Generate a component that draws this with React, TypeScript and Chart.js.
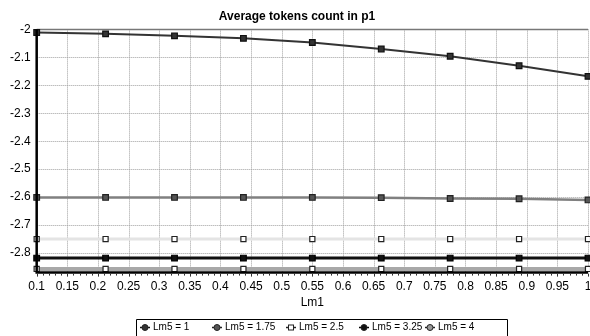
import React, { useEffect, useRef } from "react";
import { Chart, registerables } from "chart.js";

Chart.register(...registerables);

const titleText = "Average tokens count in p1";
const xAxisTitle = "Lm1";
const xValues = [0.1, 0.2125, 0.325, 0.4375, 0.55, 0.6625, 0.775, 0.8875, 1];
const seriesLabels = ["Lm5 = 1", "Lm5 = 1.75", "Lm5 = 2.5", "Lm5 = 3.25", "Lm5 = 4"];
const lm5_1 = [-2.011, -2.016, -2.023, -2.032, -2.047, -2.07, -2.096, -2.13, -2.168];
const lm5_175 = [-2.601, -2.601, -2.601, -2.601, -2.601, -2.602, -2.605, -2.606, -2.61];
const lm5_25 = [-2.75, -2.75, -2.75, -2.75, -2.75, -2.75, -2.75, -2.75, -2.75];
const lm5_325 = [-2.818, -2.818, -2.818, -2.818, -2.818, -2.818, -2.818, -2.818, -2.818];
const lm5_4 = [-2.857, -2.857, -2.857, -2.857, -2.857, -2.857, -2.857, -2.857, -2.857];
const xTickValues = [0.1, 0.15, 0.2, 0.25, 0.3, 0.35, 0.4, 0.45, 0.5, 0.55, 0.6, 0.65, 0.7, 0.75, 0.8, 0.85, 0.9, 0.95, 1];
const yTickValues = [-2, -2.1, -2.2, -2.3, -2.4, -2.5, -2.6, -2.7, -2.8];
const xMin = 0.1;
const xMax = 1;
const yMin = -2.87;
const yMax = -2;

const FONT = "'Liberation Sans', Arial, sans-serif";

const styles = [
  { line: "#333333", width: 2, fill: "#333333", border: "#111111", radius: 4, legendShape: "circle" },
  { line: "#808080", width: 2.5, fill: "#555555", border: "#222222", radius: 4, legendShape: "circle" },
  { line: "#e4e4e4", width: 3, fill: "#ffffff", border: "#222222", radius: 3.6, legendShape: "rect" },
  { line: "#111111", width: 3, fill: "#111111", border: "#000000", radius: 4, legendShape: "circle" },
  { line: "#a8a8a8", width: 4, fill: "#ffffff", border: "#222222", radius: 3.6, legendShape: "circle4" },
];

const allSeries = [lm5_1, lm5_175, lm5_25, lm5_325, lm5_4];

const gridPlugin = {
  id: "dottedGrid",
  beforeDatasetsDraw(chart: any) {
    const ctx = chart.ctx;
    const area = chart.chartArea;
    const xs = chart.scales.x;
    const ys = chart.scales.y;
    ctx.save();
    ctx.strokeStyle = "#a0a0a0";
    ctx.lineWidth = 1;
    ctx.setLineDash([1, 1]);
    xs.ticks.forEach((t: any) => {
      const px = Math.round(xs.getPixelForValue(t.value)) + 0.5;
      ctx.beginPath();
      ctx.moveTo(px, area.top);
      ctx.lineTo(px, area.bottom);
      ctx.stroke();
    });
    ys.ticks.forEach((t: any) => {
      const py = Math.round(ys.getPixelForValue(t.value)) + 0.5;
      ctx.beginPath();
      ctx.moveTo(area.left, py);
      ctx.lineTo(area.right, py);
      ctx.stroke();
    });
    ctx.setLineDash([]);
    ctx.strokeStyle = "#777777";
    ctx.lineWidth = 1.5;
    ctx.beginPath();
    ctx.moveTo(area.left, area.top);
    ctx.lineTo(area.right, area.top);
    ctx.stroke();
    ctx.restore();
  },
};

const framePlugin = {
  id: "frameAndLegend",
  afterDraw(chart: any) {
    const ctx = chart.ctx;
    const area = chart.chartArea;
    const xs = chart.scales.x;
    ctx.save();
    ctx.strokeStyle = "#000000";
    ctx.lineWidth = 2.5;
    ctx.beginPath();
    ctx.moveTo(area.left, area.top);
    ctx.lineTo(area.left, area.bottom);
    ctx.lineTo(area.right, area.bottom);
    ctx.stroke();
    ctx.strokeStyle = "#333333";
    ctx.lineWidth = 1;
    for (let i = 0; i <= 90; i++) {
      const v = xMin + i * 0.01;
      const px = Math.round(xs.getPixelForValue(v)) + 0.5;
      ctx.beginPath();
      ctx.moveTo(px, area.bottom + 1);
      ctx.lineTo(px, area.bottom + (i % 5 === 0 ? 4 : 3));
      ctx.stroke();
    }
    ctx.fillStyle = "#000";
    ctx.font = "12px " + FONT;
    ctx.textAlign = "center";
    ctx.textBaseline = "middle";
    ctx.fillText(xAxisTitle, (area.left + area.right) / 2, area.bottom + 30);
    const boxLeft = 136.5;
    const boxTop = 319.5;
    const boxRight = 507.5;
    ctx.strokeStyle = "#000000";
    ctx.lineWidth = 1;
    ctx.beginPath();
    ctx.moveTo(boxLeft, chart.height + 2);
    ctx.lineTo(boxLeft, boxTop);
    ctx.lineTo(boxRight, boxTop);
    ctx.lineTo(boxRight, chart.height + 2);
    ctx.stroke();
    const cy = 327.5;
    const pitch = [0, 72, 146, 219, 285];
    ctx.font = "10px " + FONT;
    ctx.textBaseline = "middle";
    ctx.textAlign = "left";
    seriesLabels.forEach((lab, i) => {
      const st = styles[i];
      const mx = 145 + pitch[i];
      ctx.strokeStyle = st.legendShape === "rect" ? "#222" : st.border;
      ctx.lineWidth = 1.5;
      ctx.beginPath();
      ctx.moveTo(mx - 5, cy);
      ctx.lineTo(mx + 5, cy);
      ctx.stroke();
      if (st.legendShape === "rect") {
        ctx.fillStyle = "#ffffff";
        ctx.strokeStyle = "#222222";
        ctx.lineWidth = 1;
        ctx.fillRect(mx - 2.5, cy - 2.5, 5, 5);
        ctx.strokeRect(mx - 2.5, cy - 2.5, 5, 5);
      } else {
        ctx.beginPath();
        ctx.arc(mx, cy, 3, 0, Math.PI * 2);
        ctx.fillStyle = st.legendShape === "circle4" ? "#999999" : st.fill;
        ctx.fill();
        ctx.lineWidth = 1;
        ctx.strokeStyle = "#222222";
        ctx.stroke();
      }
      ctx.fillStyle = "#000000";
      ctx.fillText(lab, mx + 8, cy);
    });
    ctx.restore();
  },
};

export default function App() {
  const ref = useRef<HTMLCanvasElement | null>(null);
  useEffect(() => {
    if (!ref.current) return;
    const datasets = allSeries.map((vals, i) => ({
      label: seriesLabels[i],
      data: vals.map((y, j) => ({ x: xValues[j], y })),
      borderColor: styles[i].line,
      borderWidth: styles[i].width,
      backgroundColor: styles[i].fill,
      pointStyle: "rect" as const,
      pointRadius: styles[i].radius,
      pointBackgroundColor: styles[i].fill,
      pointBorderColor: styles[i].border,
      pointBorderWidth: 1.2,
      tension: 0,
      fill: false,
      clip: false as any,
    }));
    const chart = new Chart(ref.current, {
      type: "line",
      data: { datasets },
      options: {
        responsive: false,
        animation: false,
        devicePixelRatio: 1,
        layout: { autoPadding: false, padding: { left: 4, right: 0, top: 0, bottom: 35 } },
        plugins: {
          legend: { display: false },
          tooltip: { enabled: false },
          title: {
            display: true,
            text: titleText,
            color: "#000",
            font: { family: FONT, size: 12, weight: "bold" },
            padding: { top: 9, bottom: 6 },
          },
        },
        scales: {
          x: {
            type: "linear",
            min: xMin,
            max: xMax,
            afterBuildTicks: (scale: any) => {
              scale.ticks = xTickValues.map((v) => ({ value: v }));
            },
            afterFit: (scale: any) => {
              scale.paddingRight = 2;
            },
            ticks: {
              autoSkip: false,
              maxRotation: 0,
              padding: 7,
              color: "#000",
              font: { family: FONT, size: 12 },
              callback: (v: any) => String(Number(Number(v).toFixed(2))),
            },
            grid: { display: false, drawTicks: false },
            border: { display: false },
          },
          y: {
            type: "linear",
            min: yMin,
            max: yMax,
            afterBuildTicks: (scale: any) => {
              scale.ticks = yTickValues.map((v) => ({ value: v }));
            },
            ticks: {
              padding: 6,
              color: "#000",
              font: { family: FONT, size: 12 },
              callback: (v: any) => String(Number(Number(v).toFixed(2))),
            },
            grid: { display: false, drawTicks: false },
            border: { display: false },
          },
        },
      },
      plugins: [gridPlugin, framePlugin],
    });
    return () => chart.destroy();
  }, []);
  return (
    <div style={{ position: "fixed", left: 0, top: 0, width: 590, height: 336, background: "#fff" }}>
      <canvas ref={ref} width={590} height={336} />
    </div>
  );
}
